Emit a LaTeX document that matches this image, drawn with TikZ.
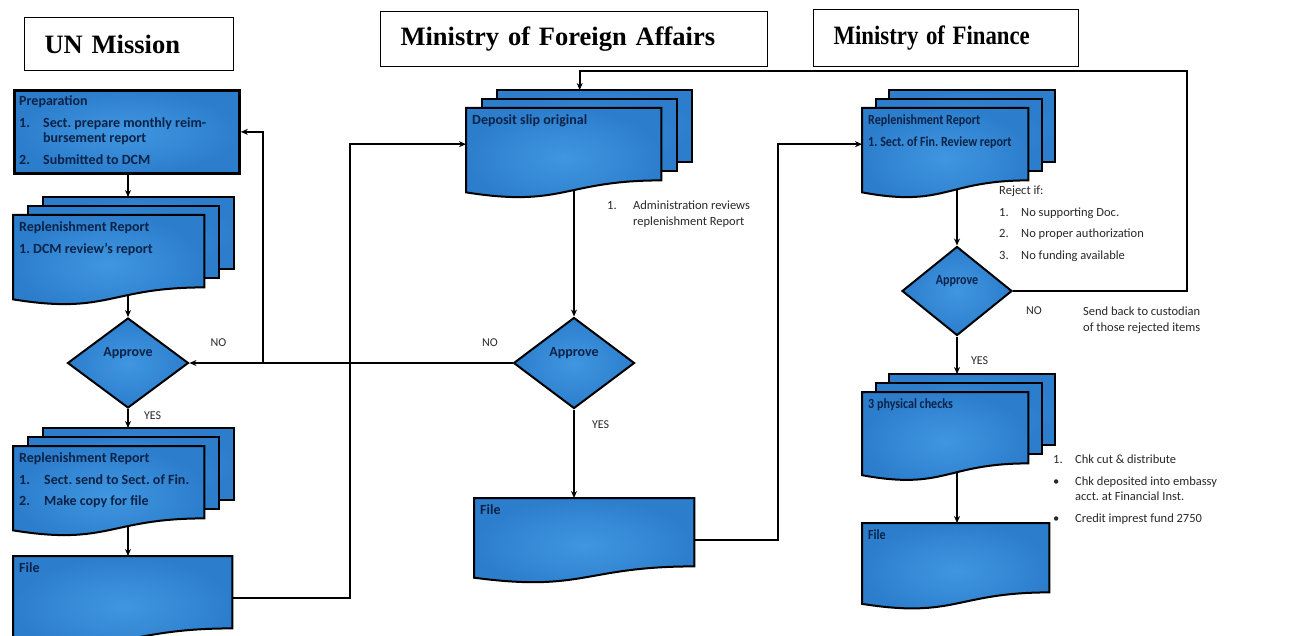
\documentclass[tikz,border=0pt]{standalone}
\usepackage{fontspec}
\setmainfont{Liberation Serif}
\newfontfamily\carlito{Carlito}
\newfontfamily\carlitonarrow[FakeStretch=0.86]{Carlito}
\usetikzlibrary{shapes.geometric,arrows.meta,calc}
\frenchspacing

\pgfdeclarelayer{bg}
\pgfdeclarelayer{sheets}
\pgfsetlayers{bg,sheets,main}

\definecolor{sheetblue}{RGB}{44,126,204}
\definecolor{sheetlight}{RGB}{64,150,224}
\definecolor{ink}{RGB}{12,34,70}
\definecolor{notegray}{RGB}{40,40,40}

% page with a wavy lower edge, drawn round node #1
\newcommand{\wavypage}[1]{%
  \shadedraw[sheet] let \p1=(#1.north), \p2=(#1.south), \n1={\y1-\y2} in
    (#1.north west) -- (#1.north east) -- (#1.south east)
    .. controls (#1.south) and ([yshift=-0.38*\n1]#1.south)
    .. ([yshift=-0.165*\n1]#1.south west) -- cycle;}

% two sheets stacked behind page #1, shifted #2 to the right
\newcommand{\sheetsbehind}[2]{%
  \shadedraw[sheet] ([xshift=2*#2, yshift=18pt]#1.north west) rectangle ([xshift=2*#2, yshift=18pt]#1.south east);
  \shadedraw[sheet] ([xshift=#2, yshift=9pt]#1.north west) rectangle ([xshift=#2, yshift=9pt]#1.south east);
  \coordinate (#1-top) at ([xshift=2*#2, yshift=18pt]#1.north);}

\begin{document}
\begin{tikzpicture}[x=1pt, y=-1pt, >={Stealth[length=7pt,width=6pt]}]
    \tikzstyle{head}=[draw, line width=1.2pt, anchor=north west, inner xsep=20pt, align=left, font=\bfseries\fontsize{26.5}{30}\selectfont]
    \tikzstyle{page}=[anchor=north west, inner sep=0pt]
    \tikzstyle{sheet}=[draw=black, line width=2pt, inner color=sheetlight, outer color=sheetblue]
    \tikzstyle{words}=[anchor=north west, inner sep=0pt, xshift=6pt, yshift=-6pt, align=left, text=ink, font=\carlito\bfseries\fontsize{14}{15}\selectfont]
    \tikzstyle{narrowwords}=[words, font=\carlitonarrow\bfseries\fontsize{14}{15}\selectfont]
    \tikzstyle{decision}=[diamond, draw=black, line width=2pt, inner color=sheetlight, outer color=sheetblue, inner sep=0pt, text=ink, font=\carlito\bfseries\fontsize{14}{15}\selectfont, text height=7pt, text depth=20pt]
    \tikzstyle{note}=[anchor=north west, inner sep=0pt, align=left, text=notegray, font=\carlito\fontsize{12.5}{15.5}\selectfont]
    \tikzstyle{yesno}=[inner sep=0pt, text=notegray, font=\carlito\fontsize{12}{14}\selectfont]
    \tikzstyle{flow}=[->, line width=2pt]

    \useasboundingbox (0,0) rectangle (1309,636);

    % Headers
    \node[head, minimum width=209pt, minimum height=53pt, text width=169pt] (un) at (24,17) {UN Mission};
    \node[head, minimum width=387pt, minimum height=55pt, text width=347pt] (mfa) at (380,11) {Ministry of Foreign Affairs};
    \node[head, minimum width=265pt, minimum height=57pt, text width=225pt] (mof) at (813,9) {\scalebox{0.86}[1]{Ministry of Finance}};

    % UN Mission
    \node[page, draw, line width=2.8pt, inner color=sheetlight, outer color=sheetblue, minimum width=225pt, minimum height=83pt,
      label={[words]north west:{Preparation\\[7pt]\makebox[24pt][l]{1.}Sect. prepare monthly reim-\\\hspace*{24pt}bursement report\\[7pt]\makebox[24pt][l]{2.}Submitted to DCM}}] (prep) at (13,89) {};
    \node[page, minimum width=191pt, minimum height=72pt,
      label={[words]north west:{Replenishment Report\\[7pt]1. DCM review’s report}}] (rep1) at (13,215) {};
    \node[decision, minimum width=121pt, minimum height=90pt] (ap1) at (128,363) {Approve};
    \node[page, minimum width=191pt, minimum height=72pt,
      label={[words]north west:{Replenishment Report\\[7pt]\makebox[25pt][l]{1.}Sect. send to Sect. of Fin.\\[6pt]\makebox[25pt][l]{2.}Make copy for file}}] (rep2) at (13,446) {};
    \node[page, minimum width=219pt, minimum height=72pt, label={[words]north west:File}] (file1) at (13,556) {};

    % Ministry of Foreign Affairs
    \node[page, minimum width=195pt, minimum height=72pt, label={[words]north west:Deposit slip original}] (dep) at (466,108) {};
    \node[note] (admin) at (607,201) {\makebox[26pt][l]{1.}Administration reviews\\\hspace*{26pt}replenishment Report};
    \node[decision, minimum width=121pt, minimum height=91pt] (ap2) at (574,363) {Approve};
    \node[page, minimum width=220pt, minimum height=68pt, label={[words]north west:File}] (file2) at (474,498) {};

    % Ministry of Finance
    \node[page, minimum width=166pt, minimum height=72pt,
      label={[narrowwords]north west:{Replenishment Report\\[7pt]1. Sect. of Fin. Review report}}] (mrep) at (862,108) {};
    \node[note] (reject) at (999,186) {Reject if:\\[6pt]\makebox[22pt][l]{1.}No supporting Doc.\\[6pt]\makebox[22pt][l]{2.}No proper authorization\\[6pt]\makebox[22pt][l]{3.}No funding available};
    \node[decision, minimum width=110pt, minimum height=89pt, font=\carlitonarrow\bfseries\fontsize{14}{15}\selectfont] (ap3) at (957,291) {Approve};
    \node[note] (sendback) at (1083,307) {Send back to custodian\\of those rejected items};
    \node[page, minimum width=166pt, minimum height=71pt, label={[narrowwords]north west:3 physical checks}] (mchk) at (862,392) {};
    \node[note] (chks) at (1053,455) {\makebox[22pt][l]{1.}Chk cut \& distribute\\[6pt]\makebox[22pt][l]{\textbullet}Chk deposited into embassy\\\hspace*{22pt}acct. at Financial Inst.\\[6pt]\makebox[22pt][l]{\textbullet}Credit imprest fund 2750};
    \node[page, minimum width=187pt, minimum height=69pt, label={[narrowwords]north west:File}] (file3) at (862,523) {};

    % Sheets
    \begin{pgfonlayer}{sheets}
      \sheetsbehind{rep1}{15pt} \wavypage{rep1}
      \sheetsbehind{rep2}{15pt} \wavypage{rep2}
      \wavypage{file1}
      \sheetsbehind{dep}{15.5pt} \wavypage{dep}
      \wavypage{file2}
      \sheetsbehind{mrep}{13.5pt} \wavypage{mrep}
      \sheetsbehind{mchk}{13.5pt} \wavypage{mchk}
      \wavypage{file3}
    \end{pgfonlayer}

    % Connectors
    \begin{pgfonlayer}{bg}
      \coordinate (j1) at (263,363);
      \coordinate (ret1) at (350,0);
      \coordinate (ret2) at (778,0);
      \coordinate (loop) at (1187,71);
      \draw[flow] (ap1 |- prep.south) -- (ap1 |- rep1-top);
      \draw[flow] (ap1 |- rep1.south) -- (ap1.north);
      \draw[flow] (ap1.south) -- node[yesno, pos=0.37, right=15pt] {YES} (ap1 |- rep2-top);
      \draw[flow] (ap1 |- rep2.south) -- (ap1 |- file1.north);
      \draw[flow] (ap2.west) -- node[yesno, pos=0.07, above=15pt] {NO} node[yesno, pos=0.91, above=15pt] {NO} (ap1.east);
      \draw[flow] (j1) |- (prep.east);
      \draw[flow] ([yshift=-6pt]file1.east) -| (ret1 |- dep.west) -- (dep.west);
      \draw[flow] (ap2 |- dep.south) -- (ap2.north);
      \draw[flow] (ap2.south) -- node[yesno, pos=0.17, right=17pt] {YES} (ap2 |- file2.north);
      \draw[flow] ([yshift=-8pt]file2.east) -| (ret2 |- mrep.west) -- (mrep.west);
      \draw[flow] (ap3 |- mrep.south) -- (ap3.north);
      \draw[flow] (ap3.east) -| node[yesno, pos=0.06, below=15pt] {NO} (loop) -| ([xshift=-15pt]dep-top);
      \draw[flow] (ap3.south) -- node[yesno, pos=0.65, right=13pt] {YES} (ap3 |- mchk-top);
      \draw[flow] (ap3 |- mchk.south) -- (ap3 |- file3.north);
    \end{pgfonlayer}
\end{tikzpicture}
\end{document}
